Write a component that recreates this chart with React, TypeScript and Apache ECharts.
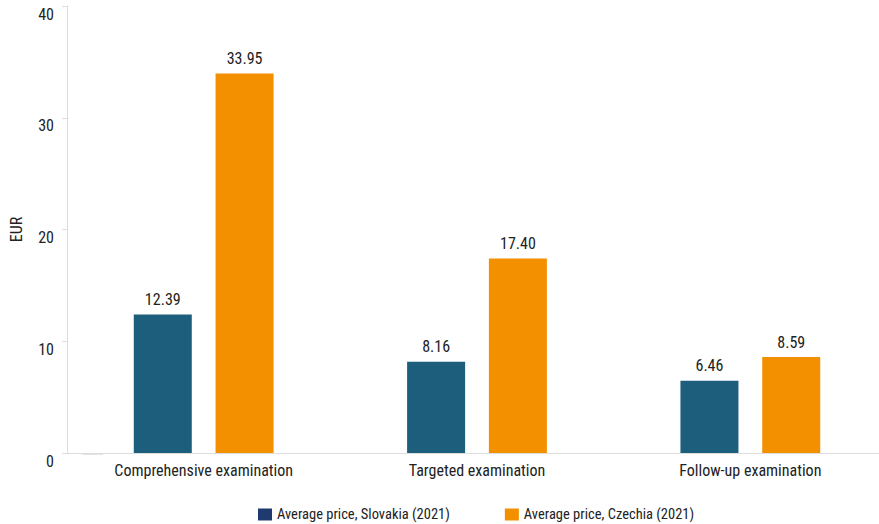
import React, { useEffect, useRef } from "react";
import * as echarts from "echarts";

const categories = ["Comprehensive examination", "Targeted examination", "Follow-up examination"];
const slovakia = [12.39, 8.16, 6.46];
const czechia = [33.95, 17.4, 8.59];
const seriesNames = ["Average price, Slovakia (2021)", "Average price, Czechia (2021)"];
const yTicks = { min: 0, max: 40, interval: 10 };

const FONT = "'Liberation Sans Narrow', 'Arial Narrow', 'Roboto Condensed', 'Liberation Sans', sans-serif";
const TEXT = "#222222";
const BLUE = "#1c5e7b";
const ORANGE = "#f29000";
const NAVY = "#1f3a6e";

export default function App() {
  const ref = useRef<HTMLDivElement>(null);
  useEffect(() => {
    if (!ref.current) return;
    const chart = echarts.init(ref.current, null, { renderer: "svg" });
    chart.setOption({
      animation: false,
      textStyle: { fontFamily: FONT },
      grid: { left: 67, top: 6, width: 820, bottom: 71, containLabel: false, outerBoundsMode: "none" },
      legend: {
        left: 258,
        top: 507,
        padding: 0,
        itemWidth: 14,
        itemHeight: 12,
        itemGap: 55,
        icon: "rect",
        textStyle: { fontFamily: FONT, fontSize: 14.5, color: TEXT },
        data: [
          { name: seriesNames[0], itemStyle: { color: NAVY } },
          { name: seriesNames[1], itemStyle: { color: ORANGE } },
        ],
      },
      xAxis: {
        type: "category",
        data: categories,
        axisLine: { show: true, lineStyle: { color: "#dddddd", width: 1 } },
        axisTick: { show: false },
        axisLabel: { fontFamily: FONT, fontSize: 16, color: TEXT, margin: 9 },
      },
      yAxis: {
        type: "value",
        min: yTicks.min,
        max: yTicks.max,
        interval: yTicks.interval,
        name: "EUR",
        nameLocation: "middle",
        nameRotate: 90,
        nameGap: 43,
        nameTextStyle: { fontFamily: FONT, fontSize: 16, color: TEXT },
        axisLine: { show: true, lineStyle: { color: "#dddddd", width: 1 } },
        axisTick: { show: true, length: 5, lineStyle: { color: "#dddddd" } },
        splitLine: { show: false },
        axisLabel: {
          fontFamily: FONT,
          fontSize: 16,
          color: TEXT,
          margin: 13,
          verticalAlign: "top",
        },
      },
      series: [
        {
          name: seriesNames[0],
          type: "bar",
          data: slovakia,
          barWidth: 58,
          barGap: "41%",
          itemStyle: { color: BLUE },
          label: {
            show: true,
            position: "top",
            distance: 7,
            fontFamily: FONT,
            fontSize: 16,
            color: TEXT,
            formatter: (p: any) => Number(p.value).toFixed(2),
          },
        },
        {
          name: seriesNames[1],
          type: "bar",
          data: czechia,
          barWidth: 58,
          barGap: "41%",
          itemStyle: { color: ORANGE },
          label: {
            show: true,
            position: "top",
            distance: 7,
            fontFamily: FONT,
            fontSize: 16,
            color: TEXT,
            formatter: (p: any) => Number(p.value).toFixed(2),
          },
        },
      ],
      graphic: [
        { type: "rect", shape: { x: 82, y: 453, width: 21, height: 2 }, style: { fill: "#e4e4e4" }, silent: true },
      ],
    });
    return () => chart.dispose();
  }, []);
  return (
    <div
      ref={ref}
      style={{ position: "fixed", left: 0, top: 0, width: 879, height: 524, background: "#ffffff" }}
    />
  );
}
